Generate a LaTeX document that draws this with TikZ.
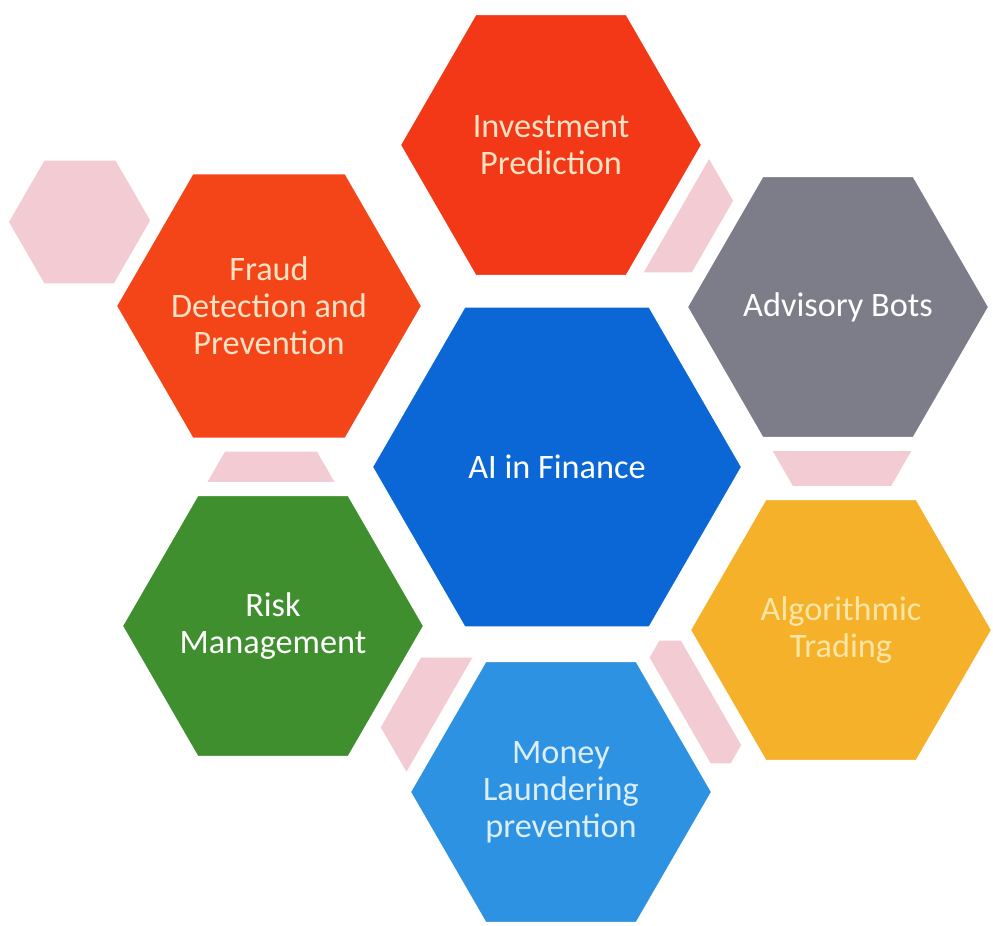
\documentclass[tikz,border=0pt]{standalone}
\usepackage{fontspec}
\setsansfont{Carlito}
\usepackage{xcolor}
\usetikzlibrary{shapes.geometric}

\definecolor{investred}{HTML}{F23816}
\definecolor{fraudred}{HTML}{F44519}
\definecolor{botgray}{HTML}{7C7D89}
\definecolor{coreblue}{HTML}{0C67D6}
\definecolor{riskgreen}{HTML}{3F8F2F}
\definecolor{algoamber}{HTML}{F6B12B}
\definecolor{mlblue}{HTML}{2E92E2}
\definecolor{hexpink}{HTML}{F3CBD2}
\definecolor{creamtext}{HTML}{FFE2C4}
\definecolor{algotext}{HTML}{FBE6A6}
\definecolor{mltext}{HTML}{DCEEFB}

\begin{document}
\begin{tikzpicture}[x=0.2mm, y=-0.2mm,
hexnode/.style={regular polygon, regular polygon sides=6, draw=white, line width=2.8mm, minimum size=63.2mm, inner sep=0pt, align=center, font=\sffamily\fontsize{19.5}{21}\selectfont},
bignode/.style={hexnode, minimum size=76.8mm},
pinknode/.style={regular polygon, regular polygon sides=6, fill=hexpink, minimum size=28.4mm, inner sep=0pt},
]
\fill[white] (0,0) rectangle (993,925);
\useasboundingbox (0,0) rectangle (993,925);
%Pink hexagons behind
\node[pinknode] (pinkleft) at (80,222) {};
\node[pinknode] (pinktop) at (668,211) {};
\node[pinknode] (pinkfraud) at (271,495) {};
\node[pinknode] (pinkbots) at (842,448) {};
\node[pinknode] (pinkrisk) at (447,719) {};
\node[pinknode] (pinkalgo) at (695,702) {};
%Nodes
\node[bignode, fill=coreblue, text=white] (core) at (557,467) {AI in Finance};
\node[hexnode, fill=investred, text=creamtext] (invest) at (551,145) {Investment\\Prediction};
\node[hexnode, fill=fraudred, text=creamtext] (fraud) at (269,306) {Fraud\\Detection and\\Prevention};
\node[hexnode, fill=botgray, text=white] (bots) at (838,307) {Advisory Bots};
\node[hexnode, fill=riskgreen, text=white] (risk) at (273,626) {Risk\\Management};
\node[hexnode, fill=algoamber, text=algotext] (algo) at (841,630) {Algorithmic\\Trading};
\node[hexnode, fill=mlblue, text=mltext] (money) at (561,792) {Money\\Laundering\\prevention};
\end{tikzpicture}
\end{document}
